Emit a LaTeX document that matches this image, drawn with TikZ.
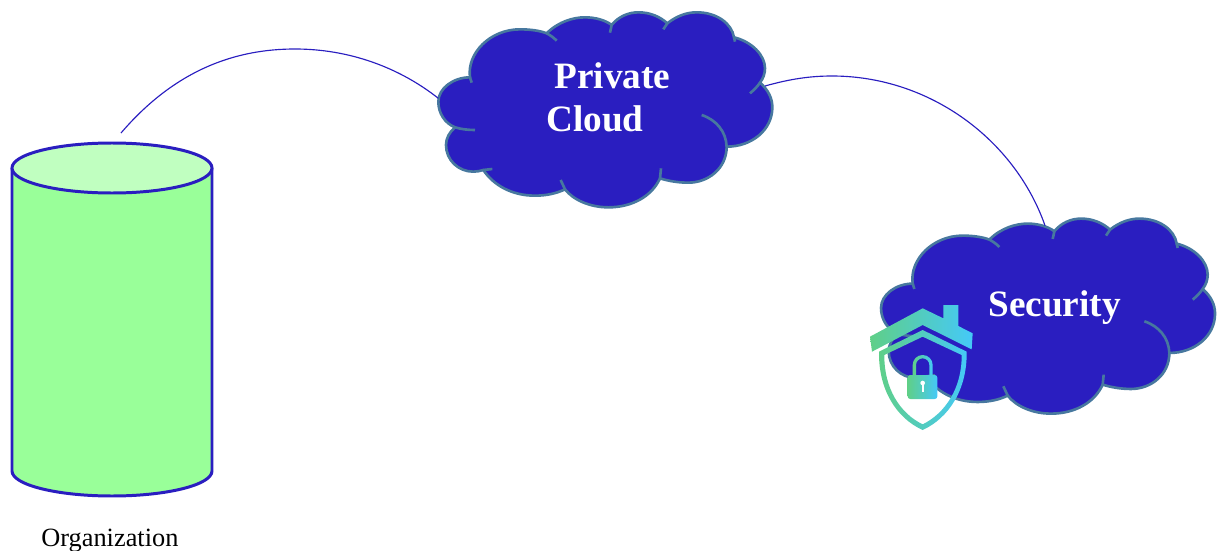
\documentclass[tikz,border=0pt]{standalone}
\usepackage{fontspec}
\setmainfont{Liberation Serif}
\definecolor{cloudblue}{HTML}{2A1EC0}
\definecolor{cloudedge}{HTML}{47789F}
\definecolor{drumgreen}{HTML}{99FF99}
\definecolor{drumlid}{HTML}{C0FFC0}
\definecolor{icongreen}{HTML}{5FCF88}
\definecolor{iconblue}{HTML}{45C9F8}
\tikzset{
	link/.style={draw=cloudblue, line width=0.65pt},
	cloudtitle/.style={anchor=base west, text=white, font=\bfseries\fontsize{21.2}{21.2}\selectfont, inner sep=0pt},
	iconshade/.style={left color=icongreen, right color=iconblue, even odd rule},
	drumline/.style={draw=cloudblue, line width=1.7pt},
	cloudshape/.pic={
		\fill[cloudblue, draw=cloudedge, line width=1.5pt, line join=round]
			(120,232) .. controls (110,160) and (180,88) .. (270,88)
			.. controls (300,88) and (330,92) .. (350,100)
			.. controls (385,65) and (430,52) .. (465,52)
			.. controls (495,52) and (525,60) .. (545,75)
			.. controls (565,50) and (595,37) .. (625,37)
			.. controls (660,37) and (690,50) .. (712,70)
			.. controls (740,48) and (770,37) .. (800,37)
			.. controls (860,37) and (905,70) .. (912,112)
			.. controls (965,125) and (1005,165) .. (1005,205)
			.. controls (1005,220) and (1000,235) .. (990,248)
			.. controls (1015,270) and (1027,295) .. (1027,322)
			.. controls (1027,390) and (965,440) .. (890,440)
			.. controls (890,505) and (835,548) .. (775,548)
			.. controls (745,548) and (715,543) .. (690,535)
			.. controls (665,590) and (605,622) .. (535,622)
			.. controls (480,622) and (430,600) .. (405,568)
			.. controls (380,580) and (350,587) .. (315,587)
			.. controls (245,587) and (190,555) .. (160,510)
			.. controls (150,513) and (140,515) .. (130,515)
			.. controls (85,515) and (48,480) .. (48,435)
			.. controls (48,415) and (58,397) .. (75,382)
			.. controls (45,370) and (25,340) .. (25,305)
			.. controls (25,265) and (70,232) .. (120,232)
			-- cycle;
		\draw[cloudedge, line width=1.5pt]
			(350,100) .. controls (360,105) and (370,112) .. (380,122)
			(545,75) -- (540,98)
			(712,70) -- (700,88)
			(912,112) -- (915,125)
			(990,248) .. controls (982,260) and (972,270) .. (960,280)
			(815,345) .. controls (860,360) and (888,395) .. (890,440)
			(690,535) -- (693,505)
			(405,568) -- (392,540)
			(160,510) -- (187,507)
			(75,382) .. controls (95,388) and (115,390) .. (135,390)
			(120,232) -- (125,248);
		\coordinate (-left) at (25,295);
		\coordinate (-right) at (1005,258);
		\coordinate (-top) at (517,58);
	},
	shieldicon/.pic={
		\shade[iconshade]
			(30,140) -- (188,55) -- (250,85) -- (250,45) -- (295,45) -- (295,108)
			-- (338,130) -- (335,178) -- (188,105) -- (36,185) -- cycle;
		\shade[iconshade]
			(188,120) -- (57,185) .. controls (55,300) and (110,385) .. (188,420)
			.. controls (265,385) and (322,300) .. (320,185) -- cycle
			(188,140) -- (73,195) .. controls (72,295) and (120,370) .. (188,403)
			.. controls (255,370) and (306,295) .. (305,195) -- cycle;
		\shade[iconshade]
			(158,258) -- (158,225) arc[start angle=180, end angle=0, x radius=30, y radius=-30]
			-- (218,258) -- (208,258) -- (208,225)
			arc[start angle=0, end angle=180, x radius=20, y radius=-20] -- (168,258) -- cycle;
		\shade[iconshade, rounded corners=1.5pt]
			(143,255) rectangle (232,327);
		\fill[white] (188,279) circle[radius=7];
		\fill[white] (185,283) rectangle (191,307);
	}
}
\begin{document}
\begin{tikzpicture}[x=0.02cm, y=-0.02cm]
	\useasboundingbox (0,0) rectangle (1218,551);

	\path[drumline, fill=drumgreen] (12,168) -- (12,471)
		arc[start angle=180, end angle=360, x radius=100, y radius=-25] -- (212,168);
	\path[drumline, fill=drumlid] (112,168) ellipse[x radius=100, y radius=25];
	\coordinate (drumtop) at (121,133);

	\pic (private) at (430,0) [scale=1/3] {cloudshape};
	\pic (security) at (872.7,206.3) [scale=1/3] {cloudshape};
	\pic (shield) at (860,290) [scale=1/3] {shieldicon};

	\draw[link] (drumtop) .. controls (175,70) and (235,49) .. (295,49)
		.. controls (350,49) and (400,68) .. (private-left);
	\draw[link] (private-right) .. controls (790,79) and (810,76) .. (832,76)
		.. controls (930,76) and (1015,140) .. (security-top);

	\node[cloudtitle] (privatetext) at (554,88) {Private};
	\node[cloudtitle] (cloudtext) at (546,131) {Cloud};
	\node[cloudtitle] (securitytext) at (988,316) {Security};
	\node[anchor=base west, inner sep=0pt, font=\fontsize{15}{15}\selectfont] (orgtext) at (41,546) {Organization};
\end{tikzpicture}
\end{document}
